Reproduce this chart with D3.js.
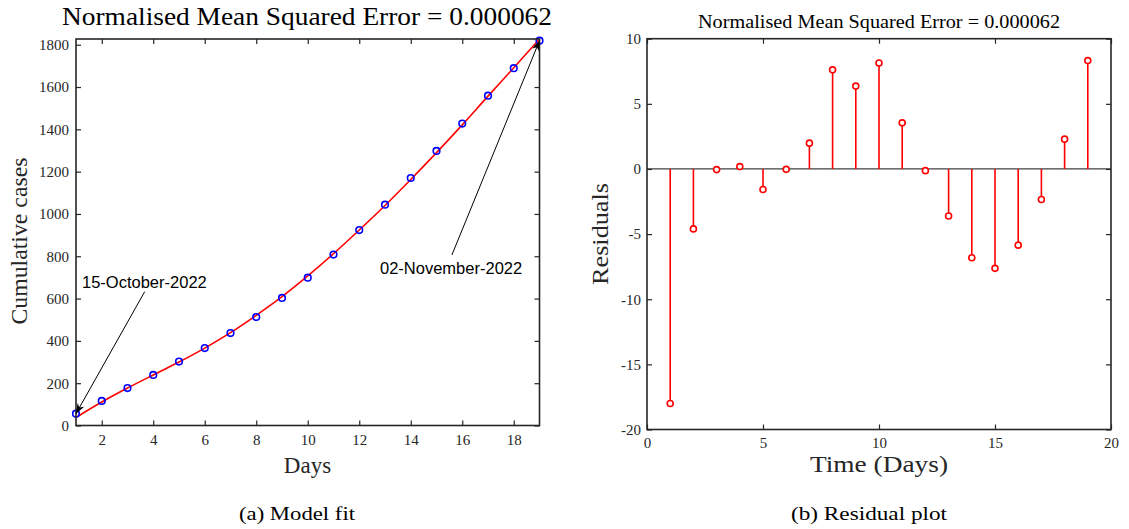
<!DOCTYPE html>
<html>
<head>
<meta charset="utf-8">
<script src="https://cdn.jsdelivr.net/npm/d3@7"></script>
<style>
    body { margin: 0; background: #fff; }
    svg { display: block; }
    .tick text { font-family: "Liberation Serif", serif; font-size: 15px; fill: #262626; }
    .tick line { stroke: #262626; stroke-width: 1.2; }
</style>
</head>
<body>
<div id="chart"></div>
<script>
var days = [1, 2, 3, 4, 5, 6, 7, 8, 9, 10, 11, 12, 13, 14, 15, 16, 17, 18, 19];
var cases = [56, 116, 177, 239, 302, 366, 437, 513, 603, 699, 808, 924, 1044, 1170, 1298, 1427, 1559, 1689, 1819];
var fitted = [38, 111, 177, 239, 300, 366, 439, 521, 609, 707, 812, 924, 1040, 1163, 1290, 1421, 1557, 1691, 1827];
var residuals = [-18.0, -4.6, -0.05, 0.18, -1.58, -0.03, 1.98, 7.61, 6.36, 8.14, 3.54, -0.13, -3.61, -6.82, -7.63, -5.85, -2.34, 2.29, 8.32];

var fitTicksX = [2, 4, 6, 8, 10, 12, 14, 16, 18];
var fitTicksY = [0, 200, 400, 600, 800, 1000, 1200, 1400, 1600, 1800];
var resTicksX = [0, 5, 10, 15, 20];
var resTicksY = [-20, -15, -10, -5, 0, 5, 10];

var titleText = "Normalised Mean Squared Error = 0.000062";
var startLabel = "15-October-2022";
var endLabel = "02-November-2022";

var width = 1129, height = 529;
var axisColor = "#262626";
var serif = "'Liberation Serif', serif";
var sans = "'Liberation Sans', Arial, sans-serif";

var svg = d3.select("#chart").append("svg")
    .attr("width", width)
    .attr("height", height);

svg.append("defs").append("marker")
    .attr("id", "arrow")
    .attr("viewBox", "-11 -5 12 10")
    .attr("refX", 0)
    .attr("refY", 0)
    .attr("markerWidth", 12)
    .attr("markerHeight", 10)
    .attr("markerUnits", "userSpaceOnUse")
    .attr("orient", "auto")
    .append("path")
    .attr("d", "M0,0 L-10,-3.8 L-7,0 L-10,3.8 Z")
    .attr("fill", "#000");

function addText(x, y, str, size, opts) {
    opts = opts || {};
    var t = svg.append("text")
        .attr("x", x)
        .attr("y", y)
        .attr("text-anchor", opts.anchor || "middle")
        .style("font-family", opts.family || serif)
        .style("font-size", size + "px")
        .style("fill", opts.fill || "#000")
        .text(str);
    if (opts.length) {
        t.attr("textLength", opts.length).attr("lengthAdjust", "spacingAndGlyphs");
    }
    if (opts.rotate) {
        t.attr("transform", "rotate(-90," + x + "," + y + ")");
    }
    return t;
}

// draws box + inward ticks on all four sides
function drawFrame(g, x, y, xTicks, yTicks, xPad, yPad) {
    var x0 = x.range()[0], x1 = x.range()[1];
    var y0 = y.range()[0], y1 = y.range()[1];

    g.append("g")
        .attr("transform", "translate(0," + y0 + ")")
        .call(d3.axisBottom(x).tickValues(xTicks).tickSize(-5).tickPadding(xPad).tickFormat(function(d) { return String(d); }))
        .call(function(s) { s.select(".domain").remove(); });
    g.append("g")
        .attr("transform", "translate(0," + y1 + ")")
        .call(d3.axisTop(x).tickValues(xTicks).tickSize(-5).tickFormat(""))
        .call(function(s) { s.select(".domain").remove(); });
    g.append("g")
        .attr("transform", "translate(" + x0 + ",0)")
        .call(d3.axisLeft(y).tickValues(yTicks).tickSize(-5).tickPadding(yPad).tickFormat(function(d) { return String(d); }))
        .call(function(s) { s.select(".domain").remove(); });
    g.append("g")
        .attr("transform", "translate(" + x1 + ",0)")
        .call(d3.axisRight(y).tickValues(yTicks).tickSize(-5).tickFormat(""))
        .call(function(s) { s.select(".domain").remove(); });

    g.append("rect")
        .attr("x", x0)
        .attr("y", y1)
        .attr("width", x1 - x0)
        .attr("height", y0 - y1)
        .attr("fill", "none")
        .attr("stroke", axisColor)
        .attr("stroke-width", 1.6);
}

// ---------- (a) model fit ----------
var fx = d3.scaleLinear().domain([1, 19]).range([76, 539.5]);
var fy = d3.scaleLinear().domain([0, 1827]).range([425.5, 39]);

var left = svg.append("g");

left.append("path")
    .datum(days)
    .attr("fill", "none")
    .attr("stroke", "#ff0000")
    .attr("stroke-width", 1.6)
    .attr("d", d3.line()
        .x(function(d) { return fx(d); })
        .y(function(d, i) { return fy(fitted[i]); })
        .curve(d3.curveMonotoneX));

left.selectAll(".obs")
    .data(days)
    .enter()
    .append("circle")
    .attr("class", "obs")
    .attr("cx", function(d) { return fx(d); })
    .attr("cy", function(d, i) { return fy(cases[i]); })
    .attr("r", 3.3)
    .attr("fill", "none")
    .attr("stroke", "#0000ff")
    .attr("stroke-width", 1.6);

drawFrame(left, fx, fy, fitTicksX, fitTicksY, 9, 7);

// annotation arrows pointing at first and last observation
var first = { x: fx(days[0]), y: fy(cases[0]) };
var last = { x: fx(days[days.length - 1]), y: fy(cases[cases.length - 1]) };

left.append("line")
    .attr("x1", first.x + 68.7).attr("y1", first.y - 122)
    .attr("x2", first.x).attr("y2", first.y)
    .attr("stroke", "#000").attr("stroke-width", 1)
    .attr("marker-end", "url(#arrow)");
addText(first.x + 6, first.y - 125.5, startLabel, 16.5, { anchor: "start", family: sans });

left.append("line")
    .attr("x1", last.x - 87.6).attr("y1", last.y + 214.3)
    .attr("x2", last.x).attr("y2", last.y)
    .attr("stroke", "#000").attr("stroke-width", 1)
    .attr("marker-end", "url(#arrow)");
addText(last.x - 159.5, last.y + 233, endLabel, 16.5, { anchor: "start", family: sans });

addText(307, 25, titleText, 25, { length: 490 });
addText(307.5, 473, "Days", 23, { fill: axisColor });
addText(27, 241, "Cumulative cases", 24, { rotate: true, fill: axisColor, length: 167 });
addText(297, 520, "(a) Model fit", 18, { length: 116 });

// ---------- (b) residual plot ----------
var rx = d3.scaleLinear().domain([0, 20]).range([647, 1111]);
var ry = d3.scaleLinear().domain([-20, 10]).range([429.5, 38.7]);

var right = svg.append("g");

right.append("line")
    .attr("x1", rx(0)).attr("x2", rx(20))
    .attr("y1", ry(0)).attr("y2", ry(0))
    .attr("stroke", "#404040")
    .attr("stroke-width", 1.2);

right.selectAll(".stem")
    .data(days)
    .enter()
    .append("line")
    .attr("class", "stem")
    .attr("x1", function(d) { return rx(d); })
    .attr("x2", function(d) { return rx(d); })
    .attr("y1", ry(0))
    .attr("y2", function(d, i) { return ry(residuals[i]); })
    .attr("stroke", "#ff0000")
    .attr("stroke-width", 1.6);

right.selectAll(".res")
    .data(days)
    .enter()
    .append("circle")
    .attr("class", "res")
    .attr("cx", function(d) { return rx(d); })
    .attr("cy", function(d, i) { return ry(residuals[i]); })
    .attr("r", 3)
    .attr("fill", "#fff")
    .attr("stroke", "#ff0000")
    .attr("stroke-width", 1.6);

drawFrame(right, rx, ry, resTicksX, resTicksY, 8, 6);

addText(879, 28, titleText, 19, { length: 362 });
addText(879, 472, "Time (Days)", 23, { fill: axisColor, length: 138 });
addText(608, 234, "Residuals", 24, { rotate: true, fill: axisColor, length: 102 });
addText(869, 520, "(b) Residual plot", 18, { length: 156 });
</script>
</body>
</html>
